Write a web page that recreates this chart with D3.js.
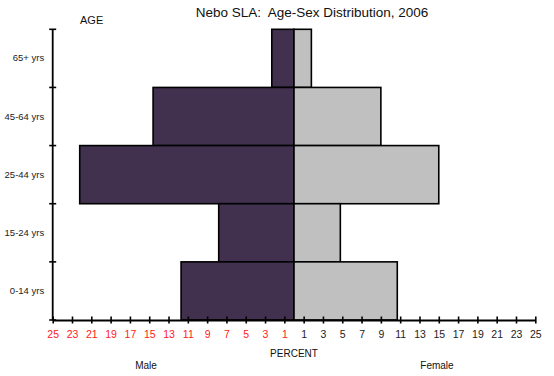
<!DOCTYPE html>
<html>
<head>
<meta charset="utf-8">
<script src="https://cdn.jsdelivr.net/npm/d3@7/dist/d3.min.js"></script>
<style>
  html, body { margin: 0; padding: 0; background: #fff; }
  svg { display: block; font-family: "Liberation Sans", Arial, sans-serif; }
  text { white-space: pre; }
</style>
</head>
<body>
<svg id="chart" width="554" height="376"></svg>
<script>
// Age groups, top to bottom
const ageGroups = ["65+ yrs", "45-64 yrs", "25-44 yrs", "15-24 yrs", "0-14 yrs"];
// Share of total population (%)
const malePct   = [2.3, 14.6, 22.2, 7.8, 11.7];
const femalePct = [1.8, 9.0, 15.0, 4.8, 10.7];
// Axis ticks: -25, -23, ..., -1, 1, ..., 25
const xTicks = [-25, -23, -21, -19, -17, -15, -13, -11, -9, -7, -5, -3, -1,
                1, 3, 5, 7, 9, 11, 13, 15, 17, 19, 21, 23, 25];

const svg = d3.select("#chart");

const x = d3.scaleLinear().domain([-25, 25]).range([52.7, 535.3]);
const y = d3.scaleBand().domain(ageGroups).range([29.3, 320]).padding(0);

const rows = ageGroups.map((g, i) => ({ g, m: malePct[i], f: femalePct[i] }));

// Male bars (left of zero)
svg.append("g").selectAll("rect").data(rows).join("rect")
  .attr("x", d => x(-d.m))
  .attr("y", d => y(d.g))
  .attr("width", d => x(0) - x(-d.m))
  .attr("height", y.bandwidth())
  .attr("fill", "#41314f")
  .attr("stroke", "#000")
  .attr("stroke-width", 1.6);

// Female bars (right of zero)
svg.append("g").selectAll("rect").data(rows).join("rect")
  .attr("x", x(0))
  .attr("y", d => y(d.g))
  .attr("width", d => x(d.f) - x(0))
  .attr("height", y.bandwidth())
  .attr("fill", "#c0c0c0")
  .attr("stroke", "#000")
  .attr("stroke-width", 1.6);

// X axis
const xAxis = svg.append("g")
  .attr("transform", `translate(0,${y.range()[1]})`)
  .call(d3.axisBottom(x).tickValues(xTicks).tickSizeOuter(0)
        .tickFormat(d => Math.abs(d)));
xAxis.select(".domain").attr("stroke", "#000").attr("stroke-width", 1.8);
xAxis.selectAll(".tick line").attr("y1", -3.5).attr("y2", 3.5)
  .attr("stroke", "#000").attr("stroke-width", 1.6);
xAxis.selectAll(".tick text")
  .attr("y", 11)
  .attr("font-size", 10.5)
  .attr("font-family", "Liberation Sans, Arial, sans-serif")
  .attr("fill", d => d < 0 ? "#ff2020" : "#222");

// Y axis: labels centred in bands, ticks on band boundaries
const yAxis = svg.append("g")
  .attr("transform", `translate(${x(-25)},0)`)
  .call(d3.axisLeft(y).tickSize(0).tickPadding(8.5));
yAxis.select(".domain").remove();
yAxis.selectAll(".tick text")
  .attr("font-size", 9.5)
  .attr("font-family", "Liberation Sans, Arial, sans-serif")
  .attr("fill", "#222");

const bounds = ageGroups.map(g => y(g)).concat([y.range()[1]]);
const yLine = svg.append("g");
yLine.append("line")
  .attr("x1", x(-25)).attr("x2", x(-25))
  .attr("y1", y.range()[0]).attr("y2", y.range()[1])
  .attr("stroke", "#000").attr("stroke-width", 1.8);
yLine.selectAll("line.tk").data(bounds).join("line")
  .attr("class", "tk")
  .attr("x1", x(-25) - 3.5).attr("x2", x(-25) + 3.5)
  .attr("y1", d => d).attr("y2", d => d)
  .attr("stroke", "#000").attr("stroke-width", 1.6);

// Titles
svg.append("text")
  .attr("x", 312).attr("y", 17)
  .attr("text-anchor", "middle")
  .attr("font-size", 13.5)
  .attr("fill", "#111")
  .text("Nebo SLA:  Age-Sex Distribution, 2006");

svg.append("text")
  .attr("x", 80).attr("y", 24)
  .attr("font-size", 11)
  .attr("fill", "#111")
  .text("AGE");

svg.append("text")
  .attr("x", 294).attr("y", 357)
  .attr("text-anchor", "middle")
  .attr("font-size", 10)
  .attr("fill", "#111")
  .text("PERCENT");

svg.append("text")
  .attr("x", 146).attr("y", 369)
  .attr("text-anchor", "middle")
  .attr("font-size", 10)
  .attr("fill", "#111")
  .text("Male");

svg.append("text")
  .attr("x", 437).attr("y", 369)
  .attr("text-anchor", "middle")
  .attr("font-size", 10)
  .attr("fill", "#111")
  .text("Female");
</script>
</body>
</html>
